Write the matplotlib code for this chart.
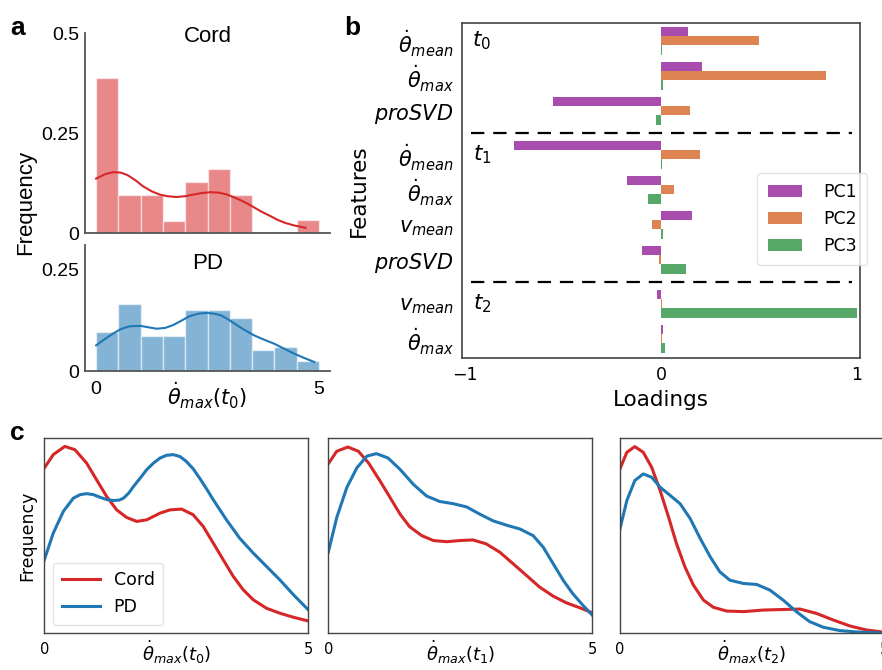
import numpy as np
import matplotlib
matplotlib.use("Agg")
import matplotlib.pyplot as plt

# ---------------- data ----------------
# panel a: histogram (probability per 0.5-wide bin, 0..5) + kde
bin_edges = [0, 0.5, 1.0, 1.5, 2.0, 2.5, 3.0, 3.5, 4.0, 4.5, 5.0]
cord_hist = [0.3875, 0.094, 0.094, 0.031, 0.1275, 0.16, 0.094, 0.0, 0.0, 0.032]
pd_hist = [0.095, 0.166, 0.086, 0.086, 0.149, 0.149, 0.131, 0.051, 0.059, 0.024]

cord_kde_x = [0.0, 0.2, 0.38, 0.55, 0.7, 0.88, 1.05, 1.25, 1.43, 1.6, 1.8, 2.0, 2.18, 2.38, 2.56,
              2.75, 2.94, 3.12, 3.3, 3.5, 3.7, 3.9, 4.07, 4.25, 4.44, 4.7]
cord_kde_y = [0.136, 0.147, 0.152, 0.151, 0.145, 0.132, 0.117, 0.104, 0.096, 0.092, 0.09, 0.092,
              0.096, 0.100, 0.102, 0.101, 0.096, 0.088, 0.079, 0.067, 0.054, 0.043, 0.033, 0.025,
              0.019, 0.013]
pd_kde_x = [0.0, 0.2, 0.38, 0.55, 0.75, 1.0, 1.2, 1.36, 1.55, 1.73, 1.9, 2.1, 2.3, 2.48, 2.65, 2.8,
            2.95, 3.1, 3.3, 3.54, 3.75, 4.0, 4.2, 4.44, 4.65, 4.9]
pd_kde_y = [0.063, 0.079, 0.092, 0.103, 0.110, 0.111, 0.107, 0.104, 0.106, 0.113, 0.123, 0.135,
            0.141, 0.143, 0.141, 0.137, 0.128, 0.117, 0.103, 0.088, 0.078, 0.067, 0.056, 0.043,
            0.033, 0.022]

# panel b: PCA loadings
features = [r'$\dot{\theta}_{mean}$', r'$\dot{\theta}_{max}$', r'$proSVD$',
            r'$\dot{\theta}_{mean}$', r'$\dot{\theta}_{max}$', r'$v_{mean}$', r'$proSVD$',
            r'$v_{mean}$', r'$\dot{\theta}_{max}$']
time_group = [0, 0, 0, 1, 1, 1, 1, 2, 2]
time_labels = [r'$t_0$', r'$t_1$', r'$t_2$']
pc1 = [0.14, 0.21, -0.55, -0.75, -0.175, 0.16, -0.095, -0.022, 0.012]
pc2 = [0.50, 0.84, 0.15, 0.20, 0.066, -0.048, -0.012, 0.003, 0.004]
pc3 = [0.005, 0.01, -0.027, 0.003, -0.066, 0.012, 0.126, 1.0, 0.022]

# panel c: density curves (relative height, no y scale shown)
c0_cord_x = [0.0, 0.17, 0.39, 0.58, 0.80, 0.99, 1.18, 1.37, 1.56, 1.75, 1.94, 2.19, 2.38, 2.60, 2.82,
             3.01, 3.20, 3.39, 3.58, 3.77, 3.96, 4.21, 4.46, 4.72, 5.0]
c0_cord_y = [0.846, 0.915, 0.957, 0.940, 0.872, 0.786, 0.701, 0.632, 0.593, 0.573, 0.581, 0.615, 0.632,
             0.636, 0.607, 0.547, 0.462, 0.376, 0.291, 0.222, 0.171, 0.128, 0.103, 0.082, 0.063]
c0_pd_x = [0.0, 0.17, 0.36, 0.55, 0.68, 0.80, 0.93, 1.05, 1.18, 1.31, 1.42, 1.50, 1.60, 1.69, 1.82,
           1.94, 2.07, 2.19, 2.31, 2.44, 2.57, 2.69, 2.82, 2.94, 3.07, 3.20, 3.45, 3.70, 3.96, 4.21,
           4.46, 4.72, 5.0]
c0_pd_y = [0.376, 0.513, 0.624, 0.692, 0.710, 0.715, 0.710, 0.697, 0.685, 0.680, 0.682, 0.692,
           0.718, 0.752, 0.796, 0.838, 0.872, 0.897, 0.911, 0.915, 0.905, 0.880, 0.842, 0.795,
           0.741, 0.684, 0.581, 0.487, 0.410, 0.342, 0.274, 0.197, 0.120]

c1_cord_x = [0.0, 0.16, 0.37, 0.57, 0.76, 0.98, 1.17, 1.36, 1.54, 1.77, 1.99, 2.24, 2.49, 2.74, 2.99,
             3.25, 3.50, 3.75, 4.00, 4.26, 4.51, 4.76, 5.0]
c1_cord_y = [0.868, 0.932, 0.954, 0.932, 0.873, 0.780, 0.695, 0.610, 0.546, 0.500, 0.475, 0.469, 0.475,
             0.478, 0.458, 0.415, 0.356, 0.297, 0.237, 0.190, 0.156, 0.131, 0.105]
c1_pd_x = [0.0, 0.16, 0.35, 0.54, 0.73, 0.91, 1.13, 1.36, 1.61, 1.86, 2.11, 2.36, 2.62, 2.87, 3.12,
           3.37, 3.63, 3.88, 4.07, 4.26, 4.45, 4.63, 4.82, 5.0]
c1_pd_y = [0.415, 0.593, 0.746, 0.847, 0.907, 0.920, 0.898, 0.839, 0.763, 0.703, 0.675, 0.664, 0.647,
           0.610, 0.576, 0.554, 0.534, 0.500, 0.441, 0.356, 0.271, 0.203, 0.144, 0.093]

c2_cord_x = [0.0, 0.13, 0.28, 0.44, 0.60, 0.76, 0.92, 1.07, 1.23, 1.39, 1.58, 1.77, 2.02, 2.34, 2.71,
             3.09, 3.41, 3.72, 4.04, 4.36, 4.67, 4.96]
c2_cord_y = [0.842, 0.927, 0.956, 0.927, 0.850, 0.731, 0.595, 0.459, 0.340, 0.247, 0.170, 0.133, 0.114,
             0.111, 0.119, 0.122, 0.124, 0.102, 0.068, 0.037, 0.017, 0.007]
c2_pd_x = [0.0, 0.13, 0.28, 0.44, 0.60, 0.76, 0.95, 1.14, 1.33, 1.52, 1.71, 1.89, 2.08, 2.34, 2.59,
           2.84, 3.09, 3.34, 3.59, 3.85, 4.16, 4.48, 4.96]
c2_pd_y = [0.536, 0.680, 0.782, 0.816, 0.799, 0.748, 0.706, 0.663, 0.587, 0.485, 0.391, 0.315, 0.272,
           0.255, 0.250, 0.221, 0.170, 0.111, 0.060, 0.031, 0.014, 0.007, 0.002]

RED = "#d62728"
BLUE = "#1f77b4"
PC_COLORS = ["#a84cae", "#dd8452", "#55a868"]

plt.rcParams["font.family"] = "DejaVu Sans"
fig = plt.figure(figsize=(8.82, 6.70), dpi=100)
W, H = 882.0, 670.0


def rect(left, top, right, bottom):
    return [left / W, 1 - bottom / H, (right - left) / W, (bottom - top) / H]


# ---------------- panel a ----------------
arial = "Liberation Sans"
ax_top = fig.add_axes(rect(85, 33, 330, 233))
ax_bot = fig.add_axes(rect(85, 245, 330, 371))
widths = np.diff(bin_edges)
for ax, hist, kx, ky, col, name, ymax, yt in [
        (ax_top, cord_hist, cord_kde_x, cord_kde_y, RED, "Cord", 0.5, [0, 0.25, 0.5]),
        (ax_bot, pd_hist, pd_kde_x, pd_kde_y, BLUE, "PD", 0.31, [0, 0.25])]:
    ax.bar(bin_edges[:-1], hist, width=widths, align="edge", color=col, alpha=0.55,
           edgecolor="white", linewidth=1.0)
    ax.plot(kx, ky, color=col, lw=1.5)
    ax.set_xlim(-0.25, 5.25)
    ax.set_ylim(0, ymax)
    ax.set_yticks(yt)
    ax.set_yticklabels(["0" if v == 0 else ("%g" % v) for v in yt], fontsize=14, family=arial)
    ax.tick_params(length=0, pad=4)
    for s in ["top", "right"]:
        ax.spines[s].set_visible(False)
    for s in ["left", "bottom"]:
        ax.spines[s].set_color("#555555")
        ax.spines[s].set_linewidth(1.3)
    frac = 0.98 if name == "Cord" else 0.857
    ax.text(0.5, frac, name, transform=ax.transAxes, ha="center", va="center",
            fontsize=16, family=arial)
ax_top.set_xticks([])
ax_bot.set_xticks([0, 5])
ax_bot.set_xticklabels(["0", "5"], fontsize=14, family=arial)
ax_bot.tick_params(axis="x", pad=7)
ax_bot.set_xlabel(r"$\dot{\theta}_{max}(t_0)$", fontsize=15, labelpad=-12)
fig.text(26 / W, 1 - 202 / H, "Frequency", rotation=90, ha="center", va="center",
         fontsize=16, family=arial)

# ---------------- panel b ----------------
axb = fig.add_axes(rect(462, 23, 860, 358))
gap = 0.25
pos = np.arange(len(features)) + gap * np.array(time_group)
h = 0.8 / 3
for k, (vals, lab) in enumerate(zip([pc1, pc2, pc3], ["PC1", "PC2", "PC3"])):
    axb.barh(pos + (k - 1) * h, vals, height=h, color=PC_COLORS[k], label=lab)
axb.set_xlim(-1.015, 1.015)
axb.set_ylim(pos[-1] + 0.55, -0.5)
axb.set_yticks(pos)
axb.set_yticklabels(features, fontsize=15)
axb.set_xticks([-1, 0, 1])
axb.tick_params(axis="x", labelsize=12.5, length=0, pad=6)
axb.tick_params(axis="y", length=0, pad=6)
for s in axb.spines.values():
    s.set_color("#444444")
    s.set_linewidth(1.2)
# dashed separators between time groups and time labels
for g in range(1, max(time_group) + 1):
    first = time_group.index(g)
    axb.axhline((pos[first - 1] + pos[first]) / 2, xmin=0.022, xmax=0.979, color="black",
                lw=1.6, linestyle=(0, (6, 4)))
for g, tl in enumerate(time_labels):
    first = time_group.index(g)
    axb.text(0.05, pos[first], tl, transform=axb.get_yaxis_transform(), ha="center",
             va="center", fontsize=15.5)
axb.set_xlabel("Loadings", fontsize=15.5, labelpad=4)
axb.set_ylabel("Features", fontsize=15.5, labelpad=4)
axb.legend(loc="upper left", bbox_to_anchor=(0.72, 0.578), fontsize=12.5, handlelength=2.0,
           frameon=True, edgecolor="#dddddd", borderpad=0.6, labelspacing=0.5,
           handletextpad=1.2)

# ---------------- panel c ----------------
c_axes = []
c_curves = [(c0_cord_x, c0_cord_y, c0_pd_x, c0_pd_y, r"$\dot{\theta}_{max}(t_0)$"),
            (c1_cord_x, c1_cord_y, c1_pd_x, c1_pd_y, r"$\dot{\theta}_{max}(t_1)$"),
            (c2_cord_x, c2_cord_y, c2_pd_x, c2_pd_y, r"$\dot{\theta}_{max}(t_2)$")]
for i, left in enumerate([44.3, 328.3, 620]):
    ax = fig.add_axes(rect(left, 438, left + 264, 633.3))
    cx, cy, px, py, xl = c_curves[i]
    ax.plot(cx, cy, color=RED, lw=2.2, label="Cord")
    ax.plot(px, py, color=BLUE, lw=2.2, label="PD")
    ax.set_xlim(0, 5)
    ax.set_ylim(0, 1.0)
    ax.set_yticks([])
    ax.set_xticks([0, 5])
    ax.set_xticklabels(["0", "5"])
    ax.tick_params(axis="x", labelsize=10.5, length=0, pad=6)
    ax.set_xlabel(xl, fontsize=13, labelpad=-13)
    for s in ax.spines.values():
        s.set_color("#444444")
        s.set_linewidth(1.0)
    c_axes.append(ax)
c_axes[0].set_ylabel("Frequency", fontsize=12.5, labelpad=6)
c_axes[0].legend(loc="lower left", fontsize=12.5, handlelength=2.2, edgecolor="#dddddd",
                 borderpad=0.5, labelspacing=0.5)

# ---------------- panel letters ----------------
for letter, x, y in [("a", 18, 28), ("b", 352, 28), ("c", 17, 433)]:
    fig.text(x / W, 1 - y / H, letter, fontsize=19, fontweight="bold", family=arial,
             ha="center", va="center")

fig.savefig("out.png", dpi=100)
